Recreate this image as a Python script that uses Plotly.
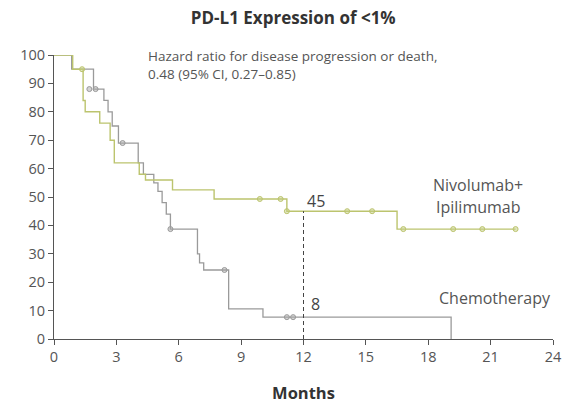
import plotly.graph_objects as go

# Kaplan-Meier step curves (months, % progression-free)
nivo_t = [0, 0.9, 1.4, 1.5, 2.2, 2.7, 2.9, 4.1, 4.4, 5.7, 7.7, 11.2, 16.5, 22.2]
nivo_s = [100, 95, 84, 80, 76, 70, 62, 58, 56, 52.5, 49.3, 45, 38.7, 38.7]
chemo_t = [0, 0.85, 1.9, 2.4, 2.6, 2.8, 3.1, 4.05, 4.3, 4.8, 5.0, 5.2, 5.4, 5.6,
           6.9, 7.0, 7.2, 8.4, 10.05, 19.1]
chemo_s = [100, 95, 88, 84, 80, 75, 69, 62, 58, 55, 52, 48, 44, 38.7,
           30, 26.8, 24.3, 10.6, 7.7, 0]

# censored observations
nivo_cens_t = [1.35, 9.9, 10.9, 11.2, 14.1, 15.3, 16.8, 19.2, 20.6, 22.2]
nivo_cens_s = [95, 49.3, 49.3, 45, 45, 45, 38.7, 38.7, 38.7, 38.7]
chemo_cens_t = [1.7, 2.0, 3.3, 5.6, 8.2, 11.2, 11.5]
chemo_cens_s = [88, 88, 69, 38.7, 24.3, 7.7, 7.7]

x_ticks = [0, 3, 6, 9, 12, 15, 18, 21, 24]
y_ticks = [0, 10, 20, 30, 40, 50, 60, 70, 80, 90, 100]

landmark_month = 12
landmark_nivo = 45
landmark_chemo = 8

NIVO = "#bcc46e"
CHEMO = "#9a9a9a"
FONT = "Open Sans"

fig = go.Figure()
fig.add_trace(go.Scatter(x=chemo_t, y=chemo_s, mode="lines", line_shape="hv",
                         line=dict(color=CHEMO, width=1.3), cliponaxis=False))
fig.add_trace(go.Scatter(x=nivo_t, y=nivo_s, mode="lines", line_shape="hv",
                         line=dict(color=NIVO, width=1.4), cliponaxis=False))
fig.add_trace(go.Scatter(x=chemo_cens_t, y=chemo_cens_s, mode="markers",
                         marker=dict(symbol="circle", size=5, color="rgba(170,170,170,0.5)",
                                     line=dict(color=CHEMO, width=1)), cliponaxis=False))
fig.add_trace(go.Scatter(x=nivo_cens_t, y=nivo_cens_s, mode="markers",
                         marker=dict(symbol="circle", size=5, color="rgba(195,205,130,0.5)",
                                     line=dict(color=NIVO, width=1)), cliponaxis=False))

# 12-month landmark
fig.add_trace(go.Scatter(x=[landmark_month, landmark_month], y=[0, landmark_nivo],
                         mode="lines", line=dict(color="#444", width=1, dash="4px,3px")))

fig.add_annotation(x=landmark_month, y=landmark_nivo, text=str(landmark_nivo), showarrow=False,
                   xanchor="left", yanchor="bottom", xshift=1, yshift=-3,
                   font=dict(family=FONT, size=16, color="#444"))
fig.add_annotation(x=landmark_month, y=landmark_chemo, text=str(landmark_chemo), showarrow=False,
                   xanchor="left", yanchor="bottom", xshift=5, yshift=-1,
                   font=dict(family=FONT, size=16, color="#444"))

label_font = dict(family=FONT, size=16, color="#555")
fig.add_annotation(x=20.4, y=54.2, text="Nivolumab+", showarrow=False, xanchor="center",
                   yanchor="middle", font=label_font)
fig.add_annotation(x=20.4, y=46.5, text="Ipilimumab", showarrow=False, xanchor="center",
                   yanchor="middle", font=label_font)
fig.add_annotation(x=21.2, y=14.4, text="Chemotherapy", showarrow=False, xanchor="center",
                   yanchor="middle", font=label_font)

fig.add_annotation(xref="paper", yref="paper", x=0.185, y=0.965, xanchor="left", yanchor="middle",
                   text="Hazard ratio for disease progression or death,<br>0.48 (95% CI, 0.27\u20130.85)",
                   showarrow=False, align="left",
                   font=dict(family=FONT, size=13.5, color="#555"))

fig.update_layout(
    width=564, height=406,
    margin=dict(l=54, r=11, t=55, b=67, autoexpand=False),
    paper_bgcolor="white", plot_bgcolor="white",
    showlegend=False,
    title=dict(text="<b>PD-L1 Expression of <1%</b>", x=0.52, xanchor="center",
               y=0.955, yanchor="middle", font=dict(family=FONT, size=17, color="#333")),
    xaxis=dict(range=[0, 24], tickvals=x_ticks, ticktext=[str(v) for v in x_ticks],
               automargin=False, ticklabeloverflow="allow",
               showgrid=False, zeroline=False, showline=True, linecolor="#555", linewidth=1,
               ticks="outside", ticklen=5, tickcolor="#555",
               tickfont=dict(family=FONT, size=14.5, color="#555"),
               title=dict(text="<b>Months</b>", font=dict(family=FONT, size=16.5, color="#333"),
                          standoff=22)),
    yaxis=dict(range=[0, 100], tickvals=y_ticks, ticktext=[str(v) for v in y_ticks],
               automargin=False,
               showgrid=False, zeroline=False, showline=True, linecolor="#555", linewidth=1,
               ticks="outside", ticklen=5, tickcolor="#555",
               tickfont=dict(family=FONT, size=14.5, color="#555")),
)

fig.write_html("out.html")
